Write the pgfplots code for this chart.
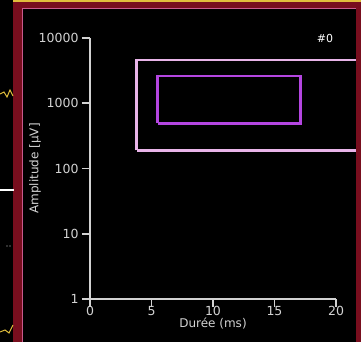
\documentclass[border=0pt]{standalone}
\usepackage{pgfplots}
\pgfplotsset{compat=1.18}
\usepackage{fontspec}
\setmainfont{DejaVu Sans}
\definecolor{frame}{RGB}{120,14,30}
\definecolor{axisgray}{RGB}{210,210,210}
\definecolor{outerc}{RGB}{232,180,232}
\definecolor{innerc}{RGB}{180,70,225}
\definecolor{tracey}{RGB}{225,190,60}
\begin{document}
\begin{tikzpicture}[x=1pt,y=1pt]
\clip (0,0) rectangle (361,342);
\fill[black] (0,0) rectangle (361,342);
\begin{axis}[
  at={(90pt,43pt)}, anchor=south west,
  scale only axis, width=246pt, height=261pt,
  xmin=0, xmax=20, ymin=1, ymax=10000, ymode=log,
  axis x line=bottom, axis y line=left,
  axis line style={-, draw=axisgray, line width=1.6pt},
  every tick/.style={draw=axisgray, line width=1.6pt},
  tick align=outside, major tick length=8pt,
  yminorticks=false,
  xtick={0,5,10,15,20}, xticklabels={0,5,10,15,20},
  ytick={1,10,100,1000,10000}, yticklabels={1,10,100,1000,10000},
  ticklabel style={text=axisgray, font=\fontsize{12.5}{13}\selectfont},
  xticklabel style={yshift=1pt, inner sep=0.5pt},
  xlabel={Durée (ms)}, ylabel={Amplitude [µV]},
  label style={text=axisgray, font=\fontsize{12}{13}\selectfont},
  xlabel style={yshift=-1pt, inner sep=0.5pt},
  ylabel style={yshift=-9pt},
  clip=false,
]
\addplot[draw=outerc, line width=2.6pt, no marks] coordinates {(3.8,190) (3.8,4600) (22.5,4600) (22.5,190) (3.8,190)};
\addplot[draw=innerc, line width=2.6pt, no marks] coordinates {(5.5,494) (5.5,2620) (17.1,2620) (17.1,494) (5.5,494)};
\node[text=white, font=\fontsize{11}{12}\selectfont, anchor=center] at (axis cs:19.1,10000) {\#0};
\end{axis}
% screenshot frame
\fill[tracey] (13,339.5) rectangle (361,342);
\fill[frame] (13,334) rectangle (361,339.5);
\fill[frame] (13,0) rectangle (22,339.5);
\fill[frame] (356,0) rectangle (361,339.5);
\draw[color={rgb,255:red,200;green,90;blue,140}, line width=0.8pt] (22.4,0) -- (22.4,333.6) -- (356,333.6);
\draw[white, line width=2pt] (0,152) -- (14,152);
\draw[tracey, line width=1pt] (0,248) -- (4,250) -- (7,245) -- (10,252) -- (13,246);
\draw[tracey, line width=1pt] (0,10) -- (5,12) -- (9,9) -- (13,17);
\fill[axisgray] (7,96) circle (0.7) (10,96) circle (0.7);
\end{tikzpicture}
\end{document}
